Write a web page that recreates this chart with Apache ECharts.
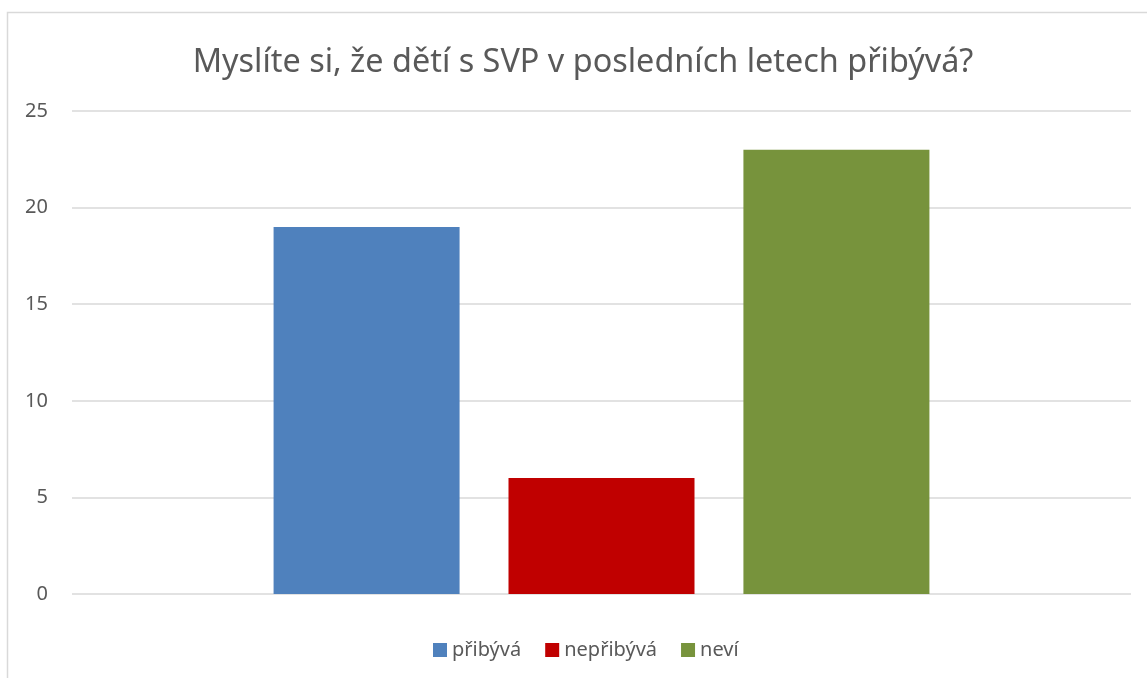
<!DOCTYPE html>
<html>
<head>
<meta charset="utf-8">
<script src="https://cdn.jsdelivr.net/npm/echarts@6/dist/echarts.min.js"></script>
<style>
  html, body { margin: 0; padding: 0; background: #fff; }
  #main { width: 1147px; height: 678px; }
</style>
</head>
<body>
<div id="main"></div>
<script>
// data
const categories = ['']
const seriesNames = ['přibývá', 'nepřibývá', 'neví']
const seriesValues = [[19], [6], [23]]
const seriesColors = ['#4F81BD', '#C00000', '#77933C']
const titleText = 'Myslíte si, že dětí s SVP v posledních letech přibývá?'

const font = 'Noto Sans'
const chart = echarts.init(document.getElementById('main'))

const series = []
for (let i = 0; i < seriesNames.length; i++) {
  series.push({
    name: seriesNames[i],
    type: 'bar',
    data: seriesValues[i],
    barWidth: 186,
    barGap: '26.3%',
    itemStyle: { color: seriesColors[i] }
  })
}

const option = {
  backgroundColor: '#fff',
  animation: false,
  title: {
    text: titleText,
    left: 578,
    top: 42,
    textAlign: 'center',
    textStyle: { fontFamily: font, fontSize: 32.4, fontWeight: 'normal', color: '#595959' }
  },
  legend: {
    left: 428,
    top: 635,
    itemWidth: 14,
    itemHeight: 14,
    itemGap: 24,
    icon: 'rect',
    textStyle: { fontFamily: font, fontSize: 20, color: '#595959' },
    data: seriesNames
  },
  grid: { left: 72, right: 16, top: 111, bottom: 84 },
  xAxis: {
    type: 'category',
    data: categories,
    axisLine: { show: false },
    axisTick: { show: false },
    axisLabel: { show: false }
  },
  yAxis: {
    type: 'value',
    min: 0,
    max: 25,
    interval: 5,
    axisLine: { show: false },
    axisTick: { show: false },
    axisLabel: { fontFamily: font, fontSize: 20, color: '#595959', margin: 24 },
    splitLine: { lineStyle: { color: '#D9D9D9', width: 1.5 } }
  },
  graphic: [{
    type: 'rect',
    shape: { x: 7.5, y: 12.5, width: 1160, height: 700 },
    style: { fill: 'none', stroke: '#D9D9D9', lineWidth: 1.5 },
    silent: true
  }],
  series: series
}
chart.setOption(option)
</script>
</body>
</html>
